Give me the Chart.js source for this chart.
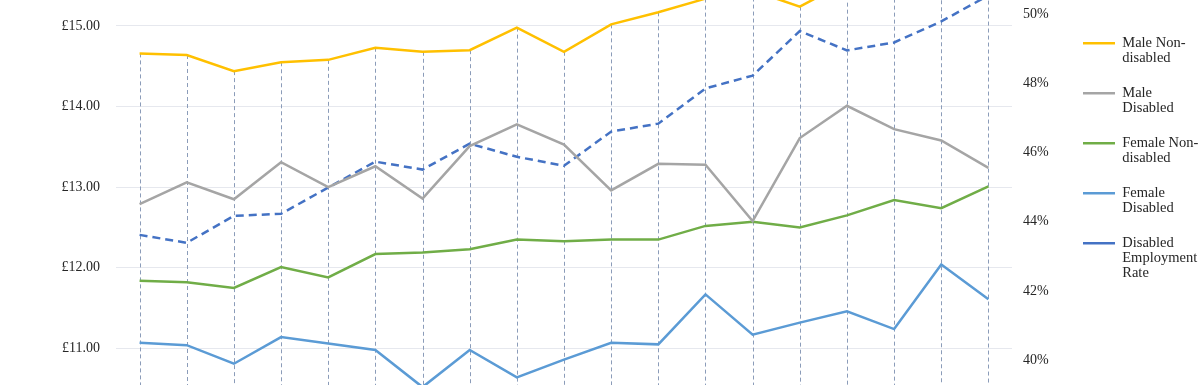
<!DOCTYPE html>
<html>
<head>
<meta charset="utf-8">
<script src="https://cdn.jsdelivr.net/npm/chart.js@4.4.1/dist/chart.umd.min.js"></script>
<style>
  html, body { margin: 0; padding: 0; background: #fff; overflow: hidden; }
  #wrap { position: absolute; left: 0; top: -79px; width: 1200px; height: 548px; }
</style>
</head>
<body>
<div id="wrap"><canvas id="pay-chart"></canvas></div>
<script>
// categories (the axis labels sit below the visible crop)
var years = ['2000', '2001', '2002', '2003', '2004', '2005', '2006', '2007', '2008', '2009',
             '2010', '2011', '2012', '2013', '2014', '2015', '2016', '2017', '2018'];

// median hourly pay, £ (left axis)
var maleNonDisabled   = [14.66, 14.64, 14.44, 14.55, 14.58, 14.73, 14.68, 14.70, 14.98, 14.68, 15.02, 15.17, 15.34, 15.44, 15.24, 15.55, 15.60, 15.58, 15.75];
var maleDisabled      = [12.79, 13.06, 12.85, 13.31, 13.00, 13.26, 12.86, 13.51, 13.78, 13.53, 12.96, 13.29, 13.28, 12.58, 13.61, 14.01, 13.72, 13.58, 13.24];
var femaleNonDisabled = [11.84, 11.82, 11.75, 12.01, 11.88, 12.17, 12.19, 12.23, 12.35, 12.33, 12.35, 12.35, 12.52, 12.57, 12.50, 12.65, 12.84, 12.74, 13.01];
var femaleDisabled    = [11.07, 11.04, 10.81, 11.14, 11.06, 10.98, 10.52, 10.98, 10.64, 10.86, 11.07, 11.05, 11.67, 11.17, 11.32, 11.46, 11.24, 12.04, 11.61];

// disabled employment rate, % (right axis)
var employmentRate = [43.62, 43.39, 44.17, 44.23, 44.99, 45.74, 45.51, 46.26, 45.88, 45.62, 46.61, 46.84, 47.86, 48.23, 49.52, 48.96, 49.19, 49.80, 50.55];

var serif = "'Liberation Serif', 'DejaVu Serif', serif";
var textColor = '#262626';

// excel style drop lines: from the top series down to the bottom of the plot
var dropLines = {
  id: 'dropLines',
  beforeDatasetsDraw: function(chart) {
    var ctx = chart.ctx;
    var bottom = chart.chartArea.bottom;
    var points = chart.getDatasetMeta(0).data;
    ctx.save();
    ctx.strokeStyle = '#8b9cb9';
    ctx.lineWidth = 1;
    ctx.setLineDash([4, 3]);
    points.forEach(function(p) {
      var x = Math.round(p.x) + 0.5;
      ctx.beginPath();
      ctx.moveTo(x, p.y);
      ctx.lineTo(x, bottom);
      ctx.stroke();
    });
    ctx.restore();
  }
};

function lineSet(label, data, color, axis, dash) {
  return {
    label: label,
    data: data,
    yAxisID: axis,
    borderColor: color,
    backgroundColor: color,
    borderWidth: 2.5,
    borderDash: dash || [],
    pointRadius: 0,
    tension: 0,
    fill: false
  };
}

var ctx = document.getElementById('pay-chart');
var myChart = new Chart(ctx, {
  type: 'line',
  data: {
    labels: years,
    datasets: [
      lineSet(['Male Non-', 'disabled'], maleNonDisabled, '#FFC000', 'y'),
      lineSet(['Male', 'Disabled'], maleDisabled, '#A5A5A5', 'y'),
      lineSet(['Female Non-', 'disabled'], femaleNonDisabled, '#70AD47', 'y'),
      lineSet(['Female', 'Disabled'], femaleDisabled, '#5B9BD5', 'y'),
      lineSet(['Disabled', 'Employment', 'Rate'], employmentRate, '#4472C4', 'y2', [8, 5])
    ]
  },
  options: {
    responsive: true,
    maintainAspectRatio: false,
    animation: false,
    layout: { padding: 0 },
    plugins: {
      tooltip: { enabled: false },
      legend: {
        position: 'right',
        align: 'start',
        maxWidth: 137,
        title: { display: true, text: '', font: { size: 10, lineHeight: 1 }, padding: { top: 85, bottom: 0 } },
        labels: {
          usePointStyle: true,
          pointStyle: 'line',
          pointStyleWidth: 32,
          padding: 20,
          color: textColor,
          font: { family: serif, size: 14.5, lineHeight: 15 / 14.5 }
        }
      }
    },
    scales: {
      x: {
        offset: true,
        grid: { display: false },
        border: { display: false },
        ticks: { color: textColor, font: { family: serif, size: 14 } },
        afterFit: function(scale) { scale.height = 40; }
      },
      y: {
        position: 'left',
        min: 10,
        max: 16,
        ticks: {
          stepSize: 1,
          padding: 16,
          color: textColor,
          font: { family: serif, size: 14 },
          callback: function(v) { return '£' + v.toFixed(2); }
        },
        grid: { color: '#e6e8ee', lineWidth: 1, drawTicks: false },
        border: { display: false },
        afterFit: function(scale) { scale.width = 116; }
      },
      y2: {
        position: 'right',
        min: 38,
        max: 52,
        ticks: {
          stepSize: 2,
          padding: 11,
          color: textColor,
          font: { family: serif, size: 14 },
          callback: function(v) { return v + '%'; }
        },
        grid: { display: false, drawTicks: false },
        border: { display: false },
        afterFit: function(scale) { scale.width = 51; }
      }
    }
  },
  plugins: [dropLines]
});
</script>
</body>
</html>
